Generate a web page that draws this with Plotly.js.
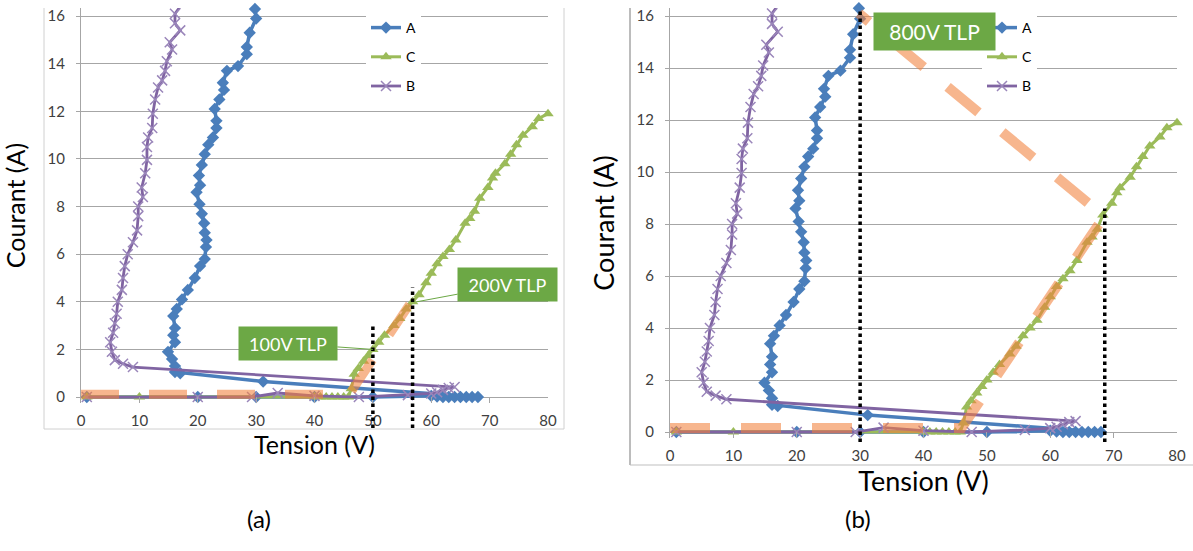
<!DOCTYPE html>
<html><head><meta charset="utf-8">
<script src="https://cdn.plot.ly/plotly-3.0.1.min.js"></script>
<style>html,body{margin:0;padding:0;background:#fff}#chart{width:1193px;height:551px}</style>
</head><body><div id="chart"></div>
<script>
// ---- data (Tension V, Courant A) ----
const aV = [1, 20, 30, 40, 50, 60, 61, 62, 63, 64, 65, 66, 67, 68,
  31.2, 17, 16.1, 16.1, 15.6, 14.9, 16.1, 15.8, 16.1, 15.8, 16.4, 17.3, 18.3, 19.5, 20.4, 21.2, 21.4, 21.5, 21.2, 21.1, 20.7, 20.3, 19.8, 20.4, 20.2, 20.7, 21.2, 21.8, 22.6, 23.2, 23.2, 22.9, 23.7, 24.5, 24.3, 25, 26.9, 28.4, 28.4, 28.9, 30, 29.8];
const aI = [0, 0, 0, 0, 0, 0.05, 0.02, 0, 0, 0, 0, 0, 0, 0,
  0.65, 1.0, 1.05, 1.3, 1.6, 1.9, 2.3, 2.6, 2.9, 3.4, 3.7, 4.1, 4.5, 5.0, 5.5, 5.8, 6.3, 6.6, 6.9, 7.3, 7.7, 8.1, 8.6, 8.9, 9.3, 9.75, 10.2, 10.6, 10.9, 11.3, 11.6, 12.1, 12.5, 12.9, 13.2, 13.7, 13.9, 14.4, 14.7, 15.3, 15.9, 16.3];

const cV = [1, 10, 40, 41, 42, 43, 44, 45, 45.8, 46.3, 46.8, 47.5, 48.4, 49.2, 50, 51, 52, 53.6, 54.6, 55.7, 56.8, 57.9, 59.1, 60, 61, 62, 63.1, 64.2, 65.8, 66.6, 67.4, 68.3, 69.7, 70.5, 71, 72.6, 73.6, 74.6, 75.7, 77.3, 78.4, 80];
const cI = [0, 0, 0, 0, 0, 0, 0, 0, 0, 0.35, 0.96, 1.2, 1.5, 1.75, 2.0, 2.3, 2.6, 3.0, 3.3, 3.7, 4.0, 4.3, 4.8, 5.2, 5.6, 5.9, 6.2, 6.6, 7.3, 7.5, 7.8, 8.35, 8.8, 9.2, 9.4, 9.8, 10.2, 10.6, 11.0, 11.35, 11.7, 11.9];

const bV = [1, 20, 29.3, 33.7, 40, 47.6, 56, 60, 61, 62, 63, 64,
  8.9, 7.2, 5.8, 5.3, 5.0, 5.5, 5.8, 6.1, 6.3, 7.0, 7.2, 7.5, 8.0, 8.9, 9.6, 9.8, 9.8, 10.6, 10.4, 11, 11.3, 11.3, 11.5, 12.2, 12.3, 12.7, 13.2, 13.9, 14.4, 14.7, 15.6, 15.2, 17, 16.1, 16.1, 17];
const bI = [0, 0, 0, 0.17, 0.05, 0, 0.08, 0.15, 0.2, 0.3, 0.38, 0.42,
  1.26, 1.4, 1.55, 1.9, 2.3, 2.7, 3.1, 3.5, 4.0, 4.5, 5.0, 5.5, 6.0, 6.5, 7.0, 7.6, 8.0, 8.4, 8.8, 9.4, 9.96, 10.5, 10.9, 11.3, 11.9, 12.5, 13.0, 13.3, 13.7, 14.1, 14.6, 14.9, 15.4, 15.7, 16.1, 16.4];

// load line paths (orange dashed)
const loadV_a = [0, 46, 56.3];
const loadI_a = [0.12, 0.12, 3.9];
const loadV_b = [0, 46, 68.5, 29.8];
const loadI_b = [0.15, 0.15, 8.3, 16.1];

// dotted markers: voltage, top current
const dotV_a = [50, 56.8];
const dotI_a = [3.0, 4.6];
const dotV_b = [30, 68.6];
const dotI_b = [16.3, 8.6];

// TLP labels
const tlpLabels_a = ['100V TLP', '200V TLP'];
const tlpPointV_a = [50, 57.5];
const tlpPointI_a = [2.0, 4.0];
const tlpLabel_b = '800V TLP';
const tlpPos_b = [41.7, 15.4];

const xTicks = [0, 10, 20, 30, 40, 50, 60, 70, 80];
const yTicks = [0, 2, 4, 6, 8, 10, 12, 14, 16];
const seriesNames = ['A', 'C', 'B'];
const panelLabels = ['(a)', '(b)'];

// ---- geometry ----
const W = 1193, H = 551;
const px = p => p / W;
const py = p => 1 - p / H;
const FONT = 'Lato, "Liberation Sans", sans-serif';
const BLUE = '#4A7EBB', GREEN = '#9BBB59', PURPLE = '#8064A2';
const ORANGE = 'rgba(241,130,60,0.58)';
const TLPGREEN = '#6CA845';
const GRID = '#A6A6A6';

const xdom = [[px(81), px(548)], [px(670), px(1177)]];
const ydom = [[py(403), py(8)], [py(438), py(8)]];
const yrng = [[-0.25, 16.34], [-0.23, 16.31]];
const paperY = (v, k) => ydom[k][0] + (v - yrng[k][0]) / (yrng[k][1] - yrng[k][0]) * (ydom[k][1] - ydom[k][0]);

const traces = [];
[0, 1].forEach(k => {
  const s = k === 0 ? '' : '2';
  const leg = k === 0 ? 'legend' : 'legend2';
  traces.push({x: aV, y: aI, xaxis: 'x' + s, yaxis: 'y' + s, name: seriesNames[0], mode: 'lines+markers',
    line: {color: BLUE, width: 3.5}, marker: {symbol: 'diamond', size: 9.5, color: BLUE},
    legend: leg, legendgroup: 'A' + k, cliponaxis: false});
  traces.push({x: cV, y: cI, xaxis: 'x' + s, yaxis: 'y' + s, name: seriesNames[1], mode: 'lines+markers',
    line: {color: GREEN, width: 3}, marker: {symbol: 'triangle-up', size: 10, color: GREEN},
    legend: leg, legendgroup: 'C' + k, cliponaxis: false});
  traces.push({x: bV, y: bI, xaxis: 'x' + s, yaxis: 'y' + s, name: seriesNames[2], mode: 'lines+markers',
    line: {color: PURPLE, width: 2.8}, marker: {symbol: 'x-thin', size: 10, color: PURPLE, line: {color: '#9A86BA', width: 1.5}},
    legend: leg, legendgroup: 'B' + k, cliponaxis: false});
  traces.push({x: k === 0 ? loadV_a : loadV_b, y: k === 0 ? loadI_a : loadI_b, xaxis: 'x' + s, yaxis: 'y' + s,
    mode: 'lines', line: {color: ORANGE, width: k === 0 ? 9 : 10, dash: k === 0 ? '38px,30px' : '40px,31px'},
    showlegend: false, hoverinfo: 'skip'});
});

function xaxisDef(k) {
  return {domain: xdom[k], range: [0, 80], anchor: k === 0 ? 'y' : 'y2', tickvals: xTicks,
    ticks: 'inside', ticklen: 6, tickcolor: GRID, showline: false, showgrid: false, zeroline: false,
    tickfont: {size: 15, color: '#404040', family: FONT}, ticklabelstandoff: 7, automargin: false,
    title: {text: 'Tension (V)', font: {size: k === 0 ? 25 : 27, color: '#000', family: FONT}, standoff: 0}};
}
function yaxisDef(k) {
  return {domain: ydom[k], range: yrng[k], anchor: k === 0 ? 'x' : 'x2', tickvals: yTicks,
    ticks: 'outside', ticklen: 4, tickcolor: GRID, showline: true, linecolor: GRID, linewidth: 1,
    showgrid: true, gridcolor: GRID, gridwidth: 1, zeroline: true, zerolinecolor: GRID, zerolinewidth: 1,
    tickfont: {size: 15, color: '#404040', family: FONT}, ticklabelstandoff: 8, automargin: false,
    title: {text: 'Courant (A)', font: {size: k === 0 ? 25 : 27, color: '#000', family: FONT}, standoff: 14}};
}

const shapes = [];
// chart-area borders
const border = (x0, y0, x1, y1, c, w) => shapes.push({type: 'line', xref: 'paper', yref: 'paper',
  x0: px(x0), y0: py(y0), x1: px(x1), y1: py(y1), line: {color: c, width: w}});
border(44, 8, 44, 429, '#D0D0D0', 1);
border(44, 429, 564, 429, '#D0D0D0', 1);
border(564, 8, 564, 429, '#D0D0D0', 1);
border(630, 8, 630, 465, '#A6A6A6', 1.5);
border(630, 465, 1193, 465, '#BFBFBF', 1);
// dotted verticals
dotV_a.forEach((v, i) => shapes.push({type: 'line', xref: 'x', yref: 'paper', x0: v, x1: v,
  y0: py(428), y1: paperY(dotI_a[i], 0), line: {color: '#000', width: 3.5, dash: 'dot'}}));
dotV_b.forEach((v, i) => shapes.push({type: 'line', xref: 'x2', yref: 'paper', x0: v, x1: v,
  y0: py(442), y1: paperY(dotI_b[i], 1), line: {color: '#000', width: 3.5, dash: 'dot'}}));

const annotations = [
  {xref: 'x', yref: 'y', x: tlpPointV_a[0], y: tlpPointI_a[0], text: tlpLabels_a[0], showarrow: true, arrowhead: 0,
    arrowwidth: 1, arrowcolor: TLPGREEN, ax: -85, ay: -6, bgcolor: TLPGREEN, borderpad: 6, width: 86, height: 21,
    font: {size: 18, color: '#fff', family: FONT}},
  {xref: 'x', yref: 'y', x: tlpPointV_a[1], y: tlpPointI_a[1], text: tlpLabels_a[1], showarrow: true, arrowhead: 0,
    arrowwidth: 1, arrowcolor: TLPGREEN, ax: 91, ay: -17, bgcolor: TLPGREEN, borderpad: 6, width: 87, height: 21,
    font: {size: 18, color: '#fff', family: FONT}},
  {xref: 'x2', yref: 'y2', x: tlpPos_b[0], y: tlpPos_b[1], text: tlpLabel_b, showarrow: false,
    bgcolor: TLPGREEN, borderpad: 6, width: 109, height: 25, font: {size: 21, color: '#fff', family: FONT}},
  {xref: 'paper', yref: 'paper', x: px(245), y: py(535), text: panelLabels[0], showarrow: false,
    font: {size: 24, color: '#000', family: FONT}},
  {xref: 'paper', yref: 'paper', x: px(873), y: py(535), text: panelLabels[1], showarrow: false,
    font: {size: 24, color: '#000', family: FONT}}
];

const legendDef = x => ({x: px(x), xanchor: 'left', y: py(12), yanchor: 'top', bgcolor: '#fff',
  borderwidth: 0, font: {size: 14, color: '#000', family: FONT}, tracegroupgap: 8, itemwidth: 30});

const layout = {
  width: W, height: H, margin: {l: 0, r: 0, t: 0, b: 0}, paper_bgcolor: '#fff', plot_bgcolor: 'rgba(0,0,0,0)',
  font: {family: FONT, color: '#000'},
  xaxis: xaxisDef(0), yaxis: yaxisDef(0), xaxis2: xaxisDef(1), yaxis2: yaxisDef(1),
  legend: legendDef(366), legend2: legendDef(982),
  shapes: shapes, annotations: annotations, showlegend: true
};

Plotly.newPlot('chart', traces, layout, {staticPlot: true, displayModeBar: false});
</script></body></html>
